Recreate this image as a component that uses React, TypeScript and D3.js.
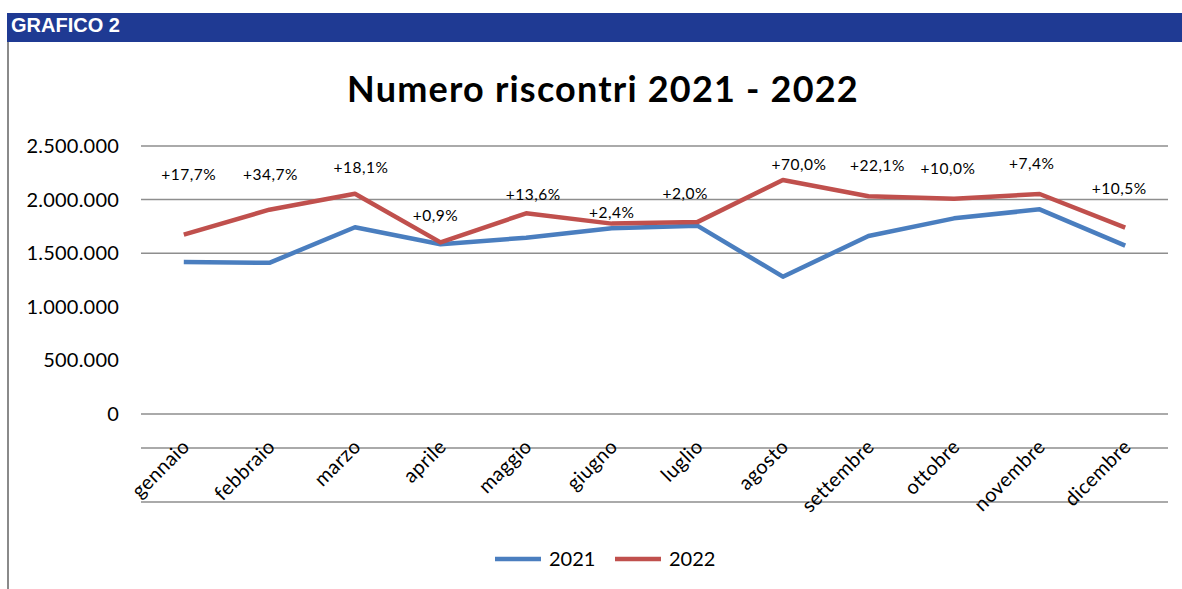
import React from "react";
import * as d3 from "d3";

const months = ["gennaio","febbraio","marzo","aprile","maggio","giugno","luglio","agosto","settembre","ottobre","novembre","dicembre"];
const values2021 = [1418000,1410000,1742000,1583000,1645000,1732000,1757000,1281000,1660000,1825000,1909000,1570000];
const values2022 = [1673000,1906000,2055000,1601000,1872000,1776000,1790000,2183000,2031000,2008000,2052000,1738000];
const variations = ["+17,7%","+34,7%","+18,1%","+0,9%","+13,6%","+2,4%","+2,0%","+70,0%","+22,1%","+10,0%","+7,4%","+10,5%"];
const yTicks = [0,500000,1000000,1500000,2000000,2500000];
const gridValues = [0,1500000,2000000,2500000];
const seriesNames = ["2021","2022"];

const W = 1182, H = 589;
const plotLeft = 141, plotRight = 1168;
const yZero = 414, yTop = 146;
const BLUE = "#4A7EBF", RED = "#C0504D", GRID = "#8E8E8E";
const FONT = "Lato, 'Open Sans', sans-serif";

// manual label offsets (px) relative to the 2022 point, as in the original layout
const labelOffsets: [number, number][] = [
  [5,-60],[1,-35],[6,-26],[-5,-27],[7,-19],[0,-11],[-12,-29],[16,-15],[9,-31],[-6,-30],[-8,-30],[-6,-39]
];

export default function App() {
  const x = d3.scalePoint<string>().domain(months).range([plotLeft, plotRight]).padding(0.5);
  const y = d3.scaleLinear().domain([0, 2500000]).range([yZero, yTop]);
  const fmt = (v: number) => v === 0 ? "0" : d3.format(",")(v).replace(/,/g, ".");
  const line = d3.line<number>().x((_, i) => x(months[i])!).y(d => y(d));

  return (
    <svg width={W} height={H} style={{ position: "absolute", left: 0, top: 0, background: "#fff" }}>
      <rect x={7} y={13} width={W - 7} height={29} fill="#1F3A93" />
      <text x={11} y={32} fill="#fff" fontFamily="Arial, 'Liberation Sans', sans-serif" fontWeight="bold" fontSize={20}>GRAFICO 2</text>
      <line x1={8} x2={8} y1={42} y2={H} stroke="#8a8a8a" strokeWidth={2} />

      <text x={603} y={102} textAnchor="middle" fontFamily={FONT} fontWeight="bold" fontSize={36} letterSpacing={1.2} fill="#000">Numero riscontri 2021 - 2022</text>

      {gridValues.map(v => (
        <line key={v} x1={plotLeft} x2={plotRight} y1={y(v)} y2={y(v)} stroke={GRID} strokeWidth={1.5} />
      ))}
      <line x1={plotLeft} x2={plotRight} y1={448} y2={448} stroke={GRID} strokeWidth={1.5} />
      <line x1={plotLeft} x2={plotRight} y1={502} y2={502} stroke={GRID} strokeWidth={1.5} />

      {yTicks.map(v => (
        <text key={v} x={119} y={y(v)} dy="0.35em" textAnchor="end" fontFamily={FONT} fontSize={20} letterSpacing={0.2} fill="#000">{fmt(v)}</text>
      ))}

      {months.map(m => (
        <text key={m} transform={`translate(${x(m)! + 7},${448}) rotate(-45)`} textAnchor="end" fontFamily={FONT} fontSize={20} letterSpacing={0.4} fill="#000">{m}</text>
      ))}

      <path d={line(values2021)!} fill="none" stroke={BLUE} strokeWidth={4.5} strokeLinejoin="round" />
      <path d={line(values2022)!} fill="none" stroke={RED} strokeWidth={4.5} strokeLinejoin="round" />

      {variations.map((t, i) => (
        <text key={i} x={x(months[i])! + labelOffsets[i][0]} y={y(values2022[i]) + labelOffsets[i][1]} dy="0.35em" textAnchor="middle" fontFamily={FONT} fontSize={15.5} letterSpacing={0.5} fill="#000">{t}</text>
      ))}

      <g>
        <line x1={495} x2={541} y1={559} y2={559} stroke={BLUE} strokeWidth={4.5} />
        <text x={549} y={559} dy="0.35em" fontFamily={FONT} fontSize={20} fill="#000">{seriesNames[0]}</text>
        <line x1={615} x2={661} y1={559} y2={559} stroke={RED} strokeWidth={4.5} />
        <text x={669} y={559} dy="0.35em" fontFamily={FONT} fontSize={20} fill="#000">{seriesNames[1]}</text>
      </g>
    </svg>
  );
}
